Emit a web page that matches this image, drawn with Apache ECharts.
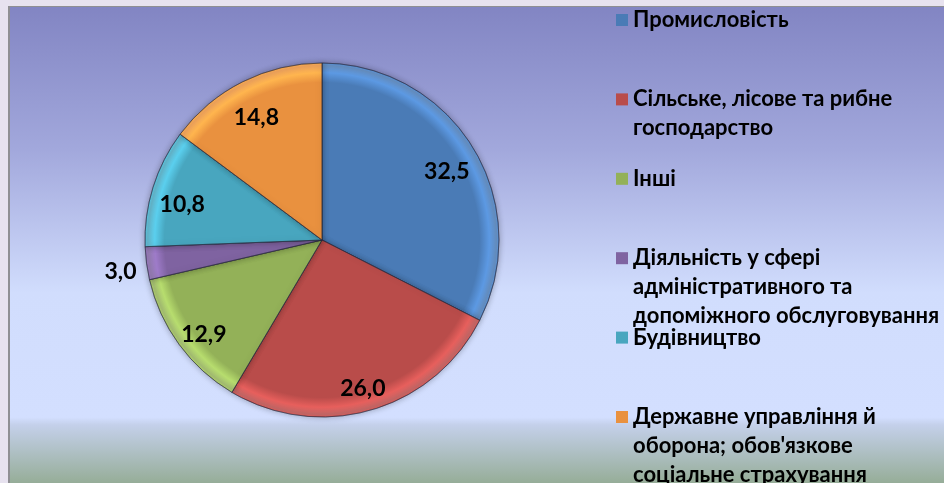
<!DOCTYPE html>
<html>
<head>
<meta charset="utf-8">
<script src="https://cdn.jsdelivr.net/npm/echarts@6/dist/echarts.min.js"></script>
<style>
  html, body { margin: 0; padding: 0; width: 944px; height: 483px; overflow: hidden; background: #e7e2ef; }
  #chart { position: absolute; left: 8px; top: 6px; width: 936px; height: 477px; border-top: 1px solid #8f8f93; border-left: 2px solid #8f8f93; box-sizing: border-box; }
</style>
</head>
<body>
<div id="chart"></div>
<script>
// категорії (по годинниковій стрілці від 12 години)
var categories = [
  "Промисловість",
  "Сільське, лісове та рибне\nгосподарство",
  "Інші",
  "Діяльність у сфері\nадміністративного та\nдопоміжного обслуговування",
  "Будівництво",
  "Державне управління й\nоборона; обов'язкове\nсоціальне страхування"
];
var shares = [32.5, 26.0, 12.9, 3.0, 10.8, 14.8];
var colors = ["#4a7bb6", "#b94c4a", "#93b158", "#7f63a1", "#48a6bf", "#e9913f"];

var myChart = echarts.init(document.getElementById("chart"));

var cx = 312, cy = 233, R = 177;
var lineH = 29;
var font = "Lato, 'Noto Sans', sans-serif";

function bevel(c) {
  // імітація фаски по краю сектора
  return {
    type: "radial", x: cx, y: cy, r: R, global: true,
    colorStops: [
      { offset: 0, color: c },
      { offset: 0.89, color: c },
      { offset: 0.945, color: echarts.color.lift(c, -0.25) },
      { offset: 0.985, color: echarts.color.lift(c, 0.15) },
      { offset: 1, color: echarts.color.lift(c, -0.2) }
    ]
  };
}

var pieData = categories.map(function (n, i) {
  return { name: n, value: shares[i], itemStyle: { color: bevel(colors[i]) } };
});

var labelData = categories.map(function (n, i) {
  var small = shares[i] < 5;
  return {
    name: n,
    value: shares[i],
    label: small ? { position: "outside" } : { position: "inside" },
    labelLine: { show: false, length: 2, length2: 3 }
  };
});

// окрема легенда для кожного пункту, щоб вирівняти їх рівномірно
var legendTop0 = 13, legendStep = 79.4;
var legends = categories.map(function (n, i) {
  var lines = n.split("\n").length;
  var c = legendTop0 + i * legendStep;
  return {
    data: [{ name: n, itemStyle: { color: colors[i], borderWidth: 0 } }],
    orient: "vertical",
    left: 606,
    top: c - (2 * lines - 1) * lineH / 2,
    padding: 0,
    itemWidth: 12,
    itemHeight: 12,
    icon: "rect",
    selectedMode: false,
    // порожні рядки зверху, щоб маркер стояв навпроти першого рядка
    formatter: function (name) {
      var pre = "";
      for (var k = 1; k < lines; k++) pre += " \n";
      return pre + name;
    },
    textStyle: {
      color: "#000",
      fontSize: 22,
      fontWeight: "bold",
      fontFamily: font,
      lineHeight: lineH
    }
  };
});

var option = {
  backgroundColor: {
    type: "linear", x: 0, y: 0, x2: 0, y2: 1,
    colorStops: [
      { offset: 0, color: "#8285c3" },
      { offset: 0.3, color: "#a2a8dc" },
      { offset: 0.6, color: "#d1ddfd" },
      { offset: 0.862, color: "#d3dfff" },
      { offset: 0.878, color: "#c4d0ea" },
      { offset: 1, color: "#96ad98" }
    ]
  },
  color: colors,
  legend: legends,
  series: [
    {
      type: "pie",
      center: [cx, cy],
      radius: R,
      startAngle: 90,
      clockwise: true,
      silent: true,
      label: { show: false },
      labelLine: { show: false },
      itemStyle: {
        borderColor: "rgba(40,40,60,0.45)",
        borderWidth: 1,
        shadowBlur: 6,
        shadowColor: "rgba(0,0,0,0.3)"
      },
      data: pieData
    },
    {
      // прозорий шар лише для підписів значень
      type: "pie",
      center: [cx, cy],
      radius: [R * 0.62, R],
      startAngle: 90,
      clockwise: true,
      silent: true,
      avoidLabelOverlap: false,
      itemStyle: { color: "rgba(0,0,0,0)" },
      labelLayout: { dy: 8 },
      label: {
        show: true,
        color: "#000",
        fontSize: 23,
        fontWeight: "bold",
        fontFamily: font,
        formatter: function (p) {
          return p.value.toFixed(1).replace(".", ",");
        }
      },
      data: labelData
    }
  ]
};

myChart.setOption(option);
</script>
</body>
</html>
